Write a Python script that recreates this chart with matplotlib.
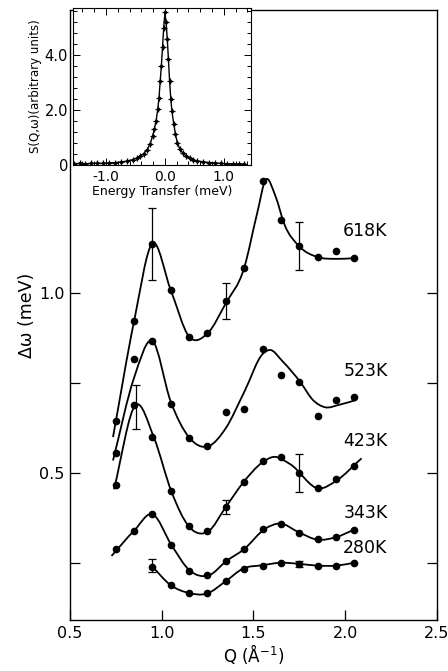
import numpy as np
import matplotlib.pyplot as plt
from matplotlib.path import Path
from matplotlib.patches import PathPatch
from matplotlib.ticker import MultipleLocator

# measured points, Q in 1/A, linewidth in meV
q = [0.75, 0.85, 0.95, 1.05, 1.15, 1.25, 1.35, 1.45, 1.55, 1.65, 1.75, 1.85, 1.95, 2.05]
w618 = [0.645, 0.922, 1.135, 1.008, 0.879, 0.888, 0.978, 1.07, 1.312, 1.203, 1.13, 1.099, 1.118, 1.098]
w523 = [0.555, 0.816, 0.867, 0.691, 0.598, 0.576, 0.669, 0.678, 0.844, 0.772, 0.754, 0.658, 0.703, 0.712]
w423 = [0.467, 0.689, 0.599, 0.449, 0.352, 0.340, 0.406, 0.475, 0.533, 0.544, 0.501, 0.459, 0.485, 0.520]
w343 = [0.289, 0.340, 0.386, 0.300, 0.229, 0.217, 0.256, 0.289, 0.346, 0.360, 0.335, 0.316, 0.323, 0.341]
q280 = [0.95, 1.05, 1.15, 1.25, 1.35, 1.45, 1.55, 1.65, 1.75, 1.85, 1.95, 2.05]
w280 = [0.240, 0.190, 0.168, 0.168, 0.201, 0.234, 0.243, 0.251, 0.247, 0.242, 0.242, 0.251]

# hand drawn guide curves (knots)
c618_q = [0.735, 0.85, 0.95, 1.05, 1.15, 1.25, 1.35, 1.45, 1.52, 1.568, 1.62, 1.67, 1.75, 1.85, 1.95, 2.05]
c618_w = [0.60, 0.922, 1.138, 1.008, 0.879, 0.888, 0.972, 1.07, 1.22, 1.315, 1.27, 1.19, 1.13, 1.10, 1.095, 1.097]
c523_q = [0.735, 0.85, 0.95, 1.05, 1.15, 1.257, 1.35, 1.45, 1.553, 1.59, 1.66, 1.757, 1.825, 1.89, 1.97, 2.06]
c523_w = [0.535, 0.765, 0.867, 0.698, 0.599, 0.575, 0.625, 0.725, 0.832, 0.842, 0.81, 0.752, 0.703, 0.683, 0.69, 0.703]
c423_q = [0.74, 0.86, 0.958, 1.054, 1.15, 1.254, 1.35, 1.445, 1.55, 1.61, 1.70, 1.86, 1.95, 2.09]
c423_w = [0.455, 0.69, 0.599, 0.448, 0.351, 0.338, 0.406, 0.474, 0.530, 0.545, 0.525, 0.457, 0.478, 0.541]
c343_q = [0.727, 0.85, 0.95, 1.054, 1.154, 1.257, 1.354, 1.45, 1.566, 1.644, 1.75, 1.85, 1.95, 2.05]
c343_w = [0.270, 0.340, 0.386, 0.300, 0.229, 0.216, 0.256, 0.289, 0.346, 0.360, 0.335, 0.315, 0.322, 0.343]
c280_q = [0.95, 1.049, 1.149, 1.245, 1.35, 1.445, 1.548, 1.65, 1.75, 1.85, 1.95, 2.05]
c280_w = [0.240, 0.189, 0.167, 0.165, 0.200, 0.235, 0.244, 0.251, 0.248, 0.243, 0.243, 0.251]

# error bars: (Q, value, half width)
err_q = [0.95, 1.35, 1.75, 0.86, 1.35, 1.75, 0.95, 1.75]
err_w = [1.135, 0.978, 1.13, 0.684, 0.406, 0.501, 0.243, 0.247]
err_d = [0.100, 0.050, 0.067, 0.062, 0.020, 0.053, 0.018, 0.008]

temps = ["618K", "523K", "423K", "343K", "280K"]
temp_y = [1.172, 0.783, 0.589, 0.389, 0.292]

# inset: quasielastic spectrum
energy = [-1.55, -1.45, -1.35, -1.25, -1.15, -1.05, -0.95, -0.85, -0.75, -0.65, -0.55, -0.48,
          -0.42, -0.36, -0.30, -0.25, -0.21, -0.18, -0.15, -0.12, -0.10, -0.08, -0.06, -0.04,
          -0.02, 0.0, 0.02, 0.04, 0.06, 0.08, 0.10, 0.12, 0.15, 0.18, 0.21, 0.25, 0.30, 0.36,
          0.42, 0.48, 0.55, 0.65, 0.75, 0.85, 0.95, 1.05, 1.15, 1.25, 1.35]
sqw = [0.05, 0.06, 0.05, 0.06, 0.07, 0.06, 0.08, 0.09, 0.11, 0.14, 0.20, 0.25,
       0.32, 0.42, 0.56, 0.78, 1.05, 1.30, 1.60, 2.05, 2.45, 3.05, 3.60, 4.30,
       5.00, 5.55, 5.20, 4.60, 3.85, 3.05, 2.40, 1.95, 1.50, 1.12, 0.82, 0.60, 0.45, 0.33,
       0.25, 0.19, 0.15, 0.12, 0.09, 0.08, 0.06, 0.05, 0.05, 0.04, 0.04]


def smooth_path(xs, ys):
    # cubic hermite through the knots, drawn as bezier segments
    x = np.asarray(xs, float)
    y = np.asarray(ys, float)
    h = np.diff(x)
    d = np.diff(y) / h
    m = np.empty_like(y)
    m[0], m[-1] = d[0], d[-1]
    m[1:-1] = (d[:-1] * h[1:] + d[1:] * h[:-1]) / (h[:-1] + h[1:])
    verts = [(x[0], y[0])]
    codes = [Path.MOVETO]
    for i in range(len(x) - 1):
        verts += [(x[i] + h[i] / 3, y[i] + m[i] * h[i] / 3),
                  (x[i + 1] - h[i] / 3, y[i + 1] - m[i + 1] * h[i] / 3),
                  (x[i + 1], y[i + 1])]
        codes += [Path.CURVE4] * 3
    return Path(verts, codes)


fig = plt.figure(figsize=(4.48, 6.71), dpi=100)
ax = fig.add_axes([0.156, 0.076, 0.819, 0.909])

for cq, cw in [(c618_q, c618_w), (c523_q, c523_w), (c423_q, c423_w),
               (c343_q, c343_w), (c280_q, c280_w)]:
    ax.add_patch(PathPatch(smooth_path(cq, cw), fill=False, color="black", lw=1.3))

for xs, ys in [(q, w618), (q, w523), (q, w423), (q, w343), (q280, w280)]:
    ax.plot(xs, ys, "o", color="black", ms=4.5)

ax.errorbar(err_q, err_w, yerr=err_d, fmt="none", ecolor="black", elinewidth=0.9,
            capsize=3, capthick=0.9)

for t, ty in zip(temps, temp_y):
    ax.text(1.99, ty, t, fontsize=12.5, ha="left", va="center")

ax.set_xlim(0.5, 2.5)
ax.set_ylim(0.092, 1.786)
ax.set_xticks([0.5, 1.0, 1.5, 2.0, 2.5])
ax.set_xticklabels(["0.5", "1.0", "1.5", "2.0", "2.5"], fontsize=11.5)
ax.set_yticks([0.25, 0.5, 0.75, 1.0])
ax.set_yticklabels(["", "0.5", "", "1.0"], fontsize=11.5)
ax.tick_params(direction="in", length=7, width=0.9, right=True, top=False, pad=4)
ax.set_xlabel("Q (Å$^{-1}$)", fontsize=12, labelpad=1)
ax.set_ylabel("Δω (meV)", fontsize=12.5, labelpad=2)
for s in ax.spines.values():
    s.set_linewidth(1.0)

# inset
ins = fig.add_axes([0.163, 0.754, 0.397, 0.234])
ins.plot(energy, sqw, "-", color="black", lw=1.0)
ins.plot(energy, sqw, "+", color="black", ms=5, mew=0.9)
ins.plot(energy, sqw, ".", color="black", ms=3)
ins.set_xlim(-1.56, 1.46)
ins.set_ylim(0, 5.71)
ins.set_xticks([-1.0, 0.0, 1.0])
ins.set_xticklabels(["-1.0", "0.0", "1.0"], fontsize=10)
ins.set_yticks([0, 2.0, 4.0])
ins.set_yticklabels(["0", "2.0", "4.0"], fontsize=10.5)
ins.xaxis.set_minor_locator(MultipleLocator(0.2))
ins.yaxis.set_minor_locator(MultipleLocator(0.4))
ins.tick_params(which="both", direction="in", top=True, right=True, width=0.7)
ins.tick_params(which="major", length=5)
ins.tick_params(which="minor", length=3)
ins.set_xlabel("Energy Transfer (meV)", fontsize=9, labelpad=1)
ins.set_ylabel("S(Q,ω)(arbitrary units)", fontsize=8.5, labelpad=2)

fig.savefig("out.png", dpi=100)
